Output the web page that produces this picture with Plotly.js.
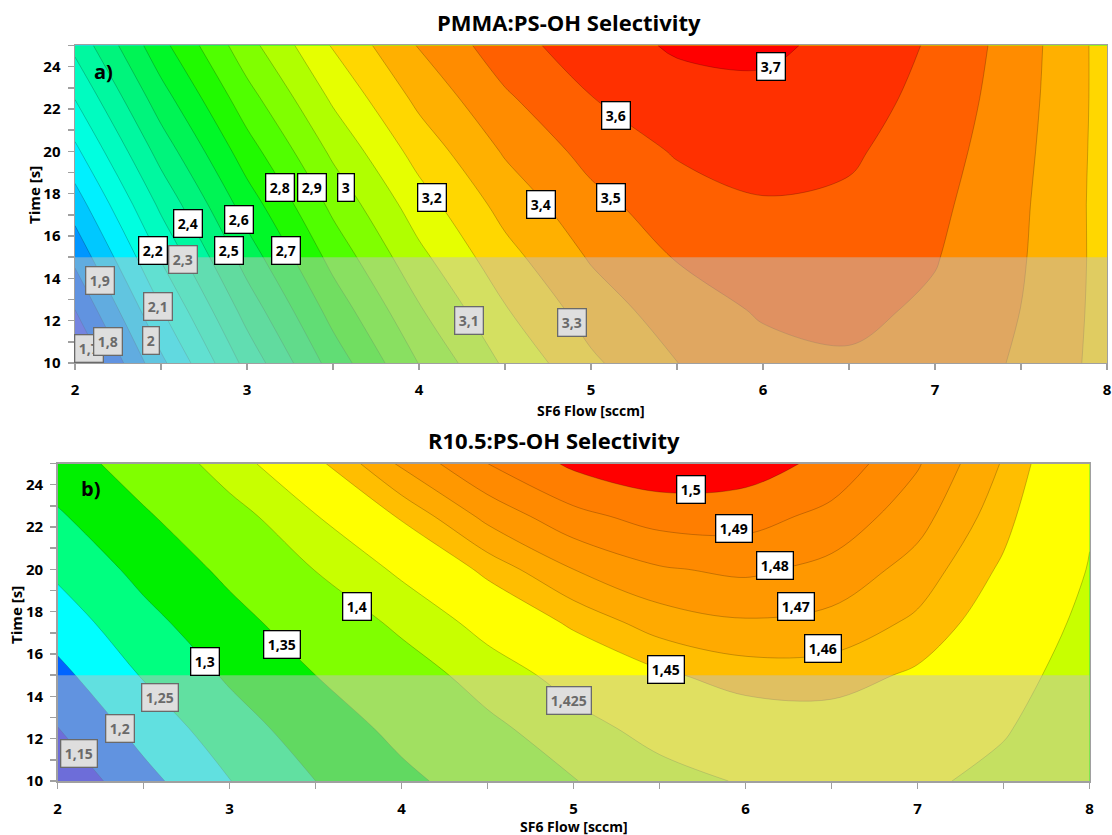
<!DOCTYPE html>
<html>
<head>
<meta charset="utf-8">
<script src="https://cdn.plot.ly/plotly-3.0.1.min.js"></script>
<style>
  html, body { margin: 0; padding: 0; background: #ffffff; }
  #chart { width: 1112px; height: 835px; }
</style>
</head>
<body>
<div id="chart"></div>
<script>
// ---------------- data ----------------
const sf6Flow = [2, 2.5, 3, 3.5, 4, 4.5, 5, 5.5, 6, 6.5, 7, 7.5, 8];   // sccm
const timeS   = [10, 12.5, 15, 17.5, 20, 22.5, 25];                     // s

// a) PMMA:PS-OH selectivity, one row per time value
const pmmaSel = [
  [1.571, 1.976, 2.333, 2.642, 2.903, 3.116, 3.282, 3.399, 3.468, 3.489, 3.462, 3.387, 3.264],
  [1.699, 2.094, 2.440, 2.739, 2.989, 3.192, 3.346, 3.453, 3.511, 3.522, 3.484, 3.399, 3.266],
  [1.826, 2.210, 2.546, 2.834, 3.074, 3.266, 3.410, 3.506, 3.554, 3.554, 3.506, 3.410, 3.266],
  [1.950, 2.323, 2.649, 2.926, 3.155, 3.337, 3.470, 3.556, 3.593, 3.583, 3.524, 3.417, 3.263],
  [2.077, 2.440, 2.755, 3.021, 3.240, 3.411, 3.534, 3.609, 3.636, 3.615, 3.545, 3.428, 3.263],
  [2.203, 2.556, 2.860, 3.116, 3.325, 3.485, 3.597, 3.662, 3.678, 3.646, 3.566, 3.439, 3.263],
  [2.327, 2.669, 2.963, 3.209, 3.407, 3.556, 3.658, 3.712, 3.718, 3.675, 3.585, 3.447, 3.261]
];

// b) R10.5:PS-OH selectivity, one row per time value
const r105Sel = [
  [1.111, 1.184, 1.249, 1.300, 1.340, 1.371, 1.399, 1.417, 1.427, 1.431, 1.429, 1.419, 1.403],
  [1.149, 1.219, 1.278, 1.325, 1.362, 1.393, 1.417, 1.433, 1.442, 1.444, 1.439, 1.427, 1.409],
  [1.186, 1.254, 1.307, 1.350, 1.384, 1.413, 1.434, 1.448, 1.455, 1.455, 1.448, 1.434, 1.414],
  [1.224, 1.285, 1.334, 1.376, 1.407, 1.434, 1.453, 1.465, 1.469, 1.467, 1.458, 1.442, 1.419],
  [1.260, 1.315, 1.361, 1.401, 1.430, 1.454, 1.470, 1.479, 1.482, 1.477, 1.466, 1.448, 1.424],
  [1.294, 1.344, 1.388, 1.424, 1.452, 1.473, 1.487, 1.494, 1.494, 1.487, 1.474, 1.454, 1.427],
  [1.327, 1.373, 1.415, 1.447, 1.472, 1.490, 1.502, 1.507, 1.505, 1.497, 1.481, 1.459, 1.431]
];

// contour labels (text, flow, time)
const labelsA_text = ['3,7','3,6','2,8','2,9','3','3,2','3,4','3,5','2,4','2,6','2,2','2,3','2,5','2,7','1,9','2,1','2','1,7','1,8','3,1','3,3'];
const labelsA_x    = [6.047,5.145,3.19,3.38,3.575,4.076,4.709,5.116,2.657,2.953,2.453,2.628,2.893,3.225,2.145,2.483,2.442,2.08,2.192,4.29,4.888];
const labelsA_y    = [24.03,21.67,18.27,18.27,18.27,17.84,17.47,17.80,16.57,16.76,15.31,14.87,15.31,15.31,13.89,12.66,11.06,10.67,11.0,12.0,11.91];

const labelsB_text = ['1,5','1,49','1,48','1,47','1,46','1,45','1,425','1,4','1,35','1,3','1,25','1,2','1,15'];
const labelsB_x    = [5.683,5.933,6.172,6.295,6.451,5.537,4.973,3.742,3.305,2.859,2.593,2.36,2.126];
const labelsB_y    = [23.78,21.94,20.16,18.24,16.27,15.28,13.78,18.24,16.43,15.64,13.94,12.46,11.31];

const titleA = 'PMMA:PS-OH Selectivity';
const titleB = 'R10.5:PS-OH Selectivity';
const xTitle = 'SF6 Flow [sccm]';
const yTitle = 'Time [s]';

// ---------------- styling ----------------
const FONT = '"Open Sans", "DejaVu Sans", sans-serif';
const bandsA = ['#2846ff','#0064ff','#0096ff','#00c8ff','#00f0ff','#00ffe0','#00fcc0','#00f8a0','#00f47c','#00f455','#00f828',
                '#20fa00','#50ff00','#80ff00','#b0ff00','#e6ff00','#ffd700','#ffb000','#ff8c00','#ff6000','#ff3000','#ff0000'];
const bandsB1 = ['#1818f0','#0064ff','#00ffff','#00ff80','#00f000','#80ff00','#c8ff00','#ffc000'];
const bandsB2 = ['rgba(0,0,0,0)','#ffff00'];
const bandsB3 = ['rgba(0,0,0,0)','#ffbe00','#ffaa00','#ff9800','#ff8a00','#ff7e00','#ff0000'];

function scale(cols) { return cols.map((c, i) => [i / (cols.length - 1), c]); }

const lineStyle = {color: 'rgba(0,0,0,0.28)', width: 0.8, smoothing: 1};

function contourTrace(z, xa, ya, start, end, size, cols) {
  return {
    type: 'contour', x: sf6Flow, y: timeS, z: z, xaxis: xa, yaxis: ya,
    autocontour: false,
    contours: {start: start, end: end, size: size, coloring: 'fill', showlines: true},
    line: lineStyle, colorscale: scale(cols), showscale: false, hoverinfo: 'skip'
  };
}

const traces = [
  contourTrace(pmmaSel, 'x', 'y', 1.7, 3.7, 0.1, bandsA),
  contourTrace(r105Sel, 'x2', 'y2', 1.15, 1.45, 0.05, bandsB1),
  contourTrace(r105Sel, 'x2', 'y2', 1.425, 1.425, 0.025, bandsB2),
  contourTrace(r105Sel, 'x2', 'y2', 1.45, 1.5, 0.01, bandsB3)
];

function makeLabel(text, x, y, xr, yr) {
  const dim = y < 15;
  return {
    xref: xr, yref: yr, x: x, y: y, text: text, showarrow: false,
    font: {family: FONT, size: 14, weight: 700, color: dim ? '#6a6a6a' : '#000000'},
    bgcolor: dim ? '#dedede' : '#ffffff', bordercolor: dim ? '#6a6a6a' : '#000000',
    borderwidth: 1.3, borderpad: 3.5
  };
}

const annotations = [];
labelsA_text.forEach((t, i) => annotations.push(makeLabel(t, labelsA_x[i], labelsA_y[i], 'x', 'y')));
labelsB_text.forEach((t, i) => annotations.push(makeLabel(t, labelsB_x[i], labelsB_y[i], 'x2', 'y2')));

function textAnn(text, x, y, size, angle) {
  return {xref: 'paper', yref: 'paper', x: x, y: y, xanchor: 'center', yanchor: 'middle',
          text: text, showarrow: false, textangle: angle || 0,
          font: {family: FONT, size: size, weight: 700, color: '#000000'}};
}
annotations.push(textAnn(titleA, 0.5121, 0.9737, 22));
annotations.push(textAnn(titleB, 0.4978, 0.4731, 22));
annotations.push(textAnn(xTitle, 0.5315, 0.5078, 14));
annotations.push(textAnn(xTitle, 0.5158, 0.0096, 14));
annotations.push(textAnn(yTitle, 0.0306, 0.7665, 15, -90));
annotations.push(textAnn(yTitle, 0.0144, 0.2635, 15, -90));
annotations.push({xref: 'x', yref: 'y', x: 2.1, y: 23.75, xanchor: 'left', yanchor: 'middle', text: 'a)', showarrow: false,
                  font: {family: FONT, size: 20, weight: 700, color: '#000'}});
annotations.push({xref: 'x2', yref: 'y2', x: 2.125, y: 23.82, xanchor: 'left', yanchor: 'middle', text: 'b)', showarrow: false,
                  font: {family: FONT, size: 20, weight: 700, color: '#000'}});

const axisGrey = '#a0a0a0';
function xAxis(domain, anchor) {
  return {domain: domain, anchor: anchor, range: [2, 8], tick0: 2, dtick: 1, ticks: 'outside', ticklen: 6,
          tickwidth: 1.5, tickcolor: axisGrey, showline: true, linecolor: axisGrey, linewidth: 1.5, mirror: true,
          showgrid: false, zeroline: false, ticklabelstandoff: 7,
          tickfont: {family: FONT, size: 15, weight: 700, color: '#000'},
          minor: {dtick: 0.5, tick0: 2, ticks: 'outside', ticklen: 6, tickwidth: 1.5, tickcolor: axisGrey, showgrid: false}};
}
function yAxis(domain, anchor) {
  return {domain: domain, anchor: anchor, range: [10, 25], tick0: 10, dtick: 2, ticks: 'outside', ticklen: 6,
          tickwidth: 1.5, tickcolor: axisGrey, showline: true, linecolor: axisGrey, linewidth: 1.5, mirror: true,
          showgrid: false, zeroline: false, ticklabelstandoff: 4,
          tickfont: {family: FONT, size: 15, weight: 700, color: '#000'},
          minor: {dtick: 1, tick0: 10, ticks: 'outside', ticklen: 6, tickwidth: 1.5, tickcolor: axisGrey, showgrid: false}};
}

const overlay = {type: 'rect', layer: 'above', x0: 2, x1: 8, y0: 10, y1: 15,
                 fillcolor: 'rgba(193,193,193,0.5)', line: {width: 0}};

const layout = {
  width: 1112, height: 835,
  margin: {l: 0, r: 0, t: 0, b: 0},
  paper_bgcolor: '#ffffff', plot_bgcolor: '#ffffff',
  showlegend: false,
  xaxis: xAxis([0.06745, 0.99550], 'y'),
  yaxis: yAxis([0.56527, 0.94551], 'x'),
  xaxis2: xAxis([0.0518, 0.97986], 'y2'),
  yaxis2: yAxis([0.06467, 0.44491], 'x2'),
  shapes: [Object.assign({xref: 'x', yref: 'y'}, overlay), Object.assign({xref: 'x2', yref: 'y2'}, overlay)],
  annotations: annotations
};

Plotly.newPlot('chart', traces, layout, {displayModeBar: false, staticPlot: true});
</script>
</body>
</html>
